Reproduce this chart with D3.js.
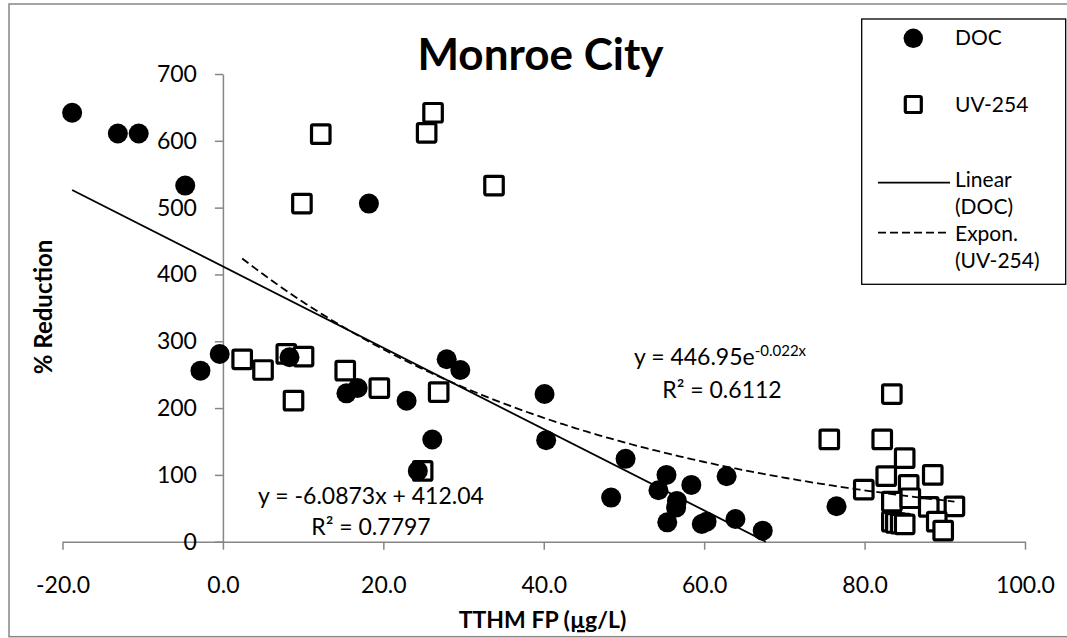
<!DOCTYPE html>
<html>
<head>
<meta charset="utf-8">
<script src="https://cdn.jsdelivr.net/npm/d3@7"></script>
<style>
  html, body { margin: 0; padding: 0; background: #fff; }
  svg { display: block; font-family: Lato, "Open Sans", sans-serif; }
</style>
</head>
<body>
<svg id="chart" width="1067" height="638"></svg>
<script>
// DOC series: TTHM FP vs % reduction
const docX = [-18.8, -13.1, -10.5, -4.7, 18.2, -2.8, -0.4, 8.3, 15.4, 16.8, 22.9, 27.9, 29.6, 26.1, 24.3,
              40.1, 40.3, 50.2, 48.4, 55.3, 54.3, 56.6, 56.5, 55.4, 58.4, 59.7, 60.3, 62.8, 63.9, 67.3, 76.5];
const docY = [642, 611, 611, 533, 506, 256, 281, 276, 222, 230, 211, 273, 257, 153, 106,
              221, 152, 124, 66, 100, 77, 61, 51, 29, 85, 26.5, 30, 98, 34, 16.5, 53];

// UV-254 series
const uvX = [26.2, 25.4, 33.8, 12.2, 9.85, 2.4, 5.0, 7.9, 10.05, 8.8, 15.25, 19.5, 26.9, 24.9,
             83.4, 75.6, 82.2, 85.0, 82.7, 88.5, 85.5, 79.9, 83.4, 85.7, 88.0, 91.2, 89.0, 89.8,
             83.4, 83.9, 84.5, 85.0];
const uvY = [642, 612, 533, 610, 506, 273, 257, 281, 277, 211, 256, 230, 224, 106,
             221, 153, 153, 125, 98, 100, 85, 78, 60, 65, 52, 53, 30, 16.5,
             30, 28, 27, 26];

// Axis ticks
const xTicks = [-20, 0, 20, 40, 60, 80, 100];
const yTicks = [0, 100, 200, 300, 400, 500, 600, 700];

// Trendline coefficients
const linSlope = -6.0873, linIntercept = 412.04;
const expA = 446.95, expB = -0.022;

const svg = d3.select("#chart");
const axisColor = "#868686";

// chart frame
svg.append("rect")
  .attr("x", 9).attr("y", 4).attr("width", 1075).attr("height", 632.7)
  .attr("fill", "#fff").attr("stroke", axisColor).attr("stroke-width", 1.5);

const x = d3.scaleLinear().domain([-20, 100]).range([62.5, 1025]);
const y = d3.scaleLinear().domain([0, 700]).range([541.7, 74]);

// x axis crossing at y = 0
const gx = svg.append("g")
  .attr("transform", `translate(0,${y(0)})`)
  .call(d3.axisBottom(x).tickValues(xTicks).tickFormat(d => d.toFixed(1))
        .tickSize(8).tickSizeOuter(0).tickPadding(27));
// y axis crossing at x = 0
const gy = svg.append("g")
  .attr("transform", `translate(${x(0)},0)`)
  .call(d3.axisLeft(y).tickValues(yTicks).tickFormat(d => String(d))
        .tickSize(8).tickSizeOuter(0).tickPadding(18));

[gx, gy].forEach(g => {
  g.selectAll("path, line").attr("stroke", axisColor).attr("stroke-width", 1.5);
  g.selectAll("text").attr("fill", "#000").attr("font-size", 23)
    .attr("font-family", "Lato, 'Open Sans', sans-serif");
});

// UV-254 markers (open squares)
const sq = 18.5;
svg.append("g").selectAll("rect")
  .data(uvX.map((v, i) => [v, uvY[i]]))
  .join("rect")
  .attr("x", d => x(d[0]) - sq / 2).attr("y", d => y(d[1]) - sq / 2)
  .attr("width", sq).attr("height", sq).attr("rx", 1.5)
  .attr("fill", "#fff").attr("stroke", "#000").attr("stroke-width", 3.2);

// DOC markers (filled circles)
svg.append("g").selectAll("circle")
  .data(docX.map((v, i) => [v, docY[i]]))
  .join("circle")
  .attr("cx", d => x(d[0])).attr("cy", d => y(d[1])).attr("r", 10)
  .attr("fill", "#000");

// Linear trendline over the DOC x range, stopped at the y = 0 axis floor
const linStart = d3.min(docX);
const linEnd = Math.min(d3.max(docX), -linIntercept / linSlope);
svg.append("line")
  .attr("x1", x(linStart)).attr("y1", y(linSlope * linStart + linIntercept))
  .attr("x2", x(linEnd)).attr("y2", y(linSlope * linEnd + linIntercept))
  .attr("stroke", "#000").attr("stroke-width", 1.8);

// Exponential trendline over the UV-254 x range
const expXs = d3.range(d3.min(uvX), d3.max(uvX), 0.5).concat([d3.max(uvX)]);
svg.append("path")
  .attr("d", d3.line().x(d => x(d)).y(d => y(expA * Math.exp(expB * d)))(expXs))
  .attr("fill", "none").attr("stroke", "#000").attr("stroke-width", 1.8)
  .attr("stroke-dasharray", "8,4");

// Title
svg.append("text").attr("x", 540.5).attr("y", 70).attr("text-anchor", "middle")
  .attr("font-size", 44).attr("font-weight", "bold").text("Monroe City");

// Axis titles
const xt = svg.append("text").attr("x", 542.5).attr("y", 628).attr("text-anchor", "middle")
  .attr("font-size", 23).attr("font-weight", "bold");
xt.append("tspan").text("TTHM FP (");
xt.append("tspan").attr("text-decoration", "underline").text("µ");
xt.append("tspan").text("g/L)");

svg.append("text").attr("transform", "translate(51.7,307) rotate(-90)")
  .attr("text-anchor", "middle").attr("font-size", 24).attr("font-weight", "bold")
  .text("% Reduction");

// Trendline equations
svg.append("text").attr("x", 371).attr("y", 504).attr("text-anchor", "middle")
  .attr("font-size", 23).text("y = -6.0873x + 412.04");
svg.append("text").attr("x", 371).attr("y", 535).attr("text-anchor", "middle")
  .attr("font-size", 23).text("R² = 0.7797");

const eq2 = svg.append("text").attr("x", 634).attr("y", 365).attr("font-size", 23);
eq2.append("tspan").text("y = 446.95e");
eq2.append("tspan").attr("font-size", 15).attr("dy", -9).text("-0.022x");
svg.append("text").attr("x", 722).attr("y", 397.7).attr("text-anchor", "middle")
  .attr("font-size", 23).text("R² = 0.6112");

// Legend
const lg = svg.append("g");
lg.append("rect").attr("x", 861.7).attr("y", 19).attr("width", 204).attr("height", 265.3)
  .attr("fill", "#fff").attr("stroke", "#000").attr("stroke-width", 1.3);
lg.append("circle").attr("cx", 913.3).attr("cy", 38.3).attr("r", 9.7).attr("fill", "#000");
lg.append("rect").attr("x", 913.3 - 8).attr("y", 104.5 - 8).attr("width", 16).attr("height", 16)
  .attr("rx", 1.5).attr("fill", "#fff").attr("stroke", "#000").attr("stroke-width", 3.2);
lg.append("line").attr("x1", 878).attr("x2", 950).attr("y1", 182.7).attr("y2", 182.7)
  .attr("stroke", "#000").attr("stroke-width", 1.8);
lg.append("line").attr("x1", 878).attr("x2", 950).attr("y1", 232.7).attr("y2", 232.7)
  .attr("stroke", "#000").attr("stroke-width", 1.8).attr("stroke-dasharray", "8,4");
const legendText = [["DOC", 45], ["UV-254", 111.7], ["Linear", 187], ["(DOC)", 213.5],
                    ["Expon.", 241], ["(UV-254)", 268]];
lg.selectAll("text.lt").data(legendText).join("text").attr("class", "lt")
  .attr("x", 955).attr("y", d => d[1]).attr("font-size", 21).text(d => d[0]);
</script>
</body>
</html>
